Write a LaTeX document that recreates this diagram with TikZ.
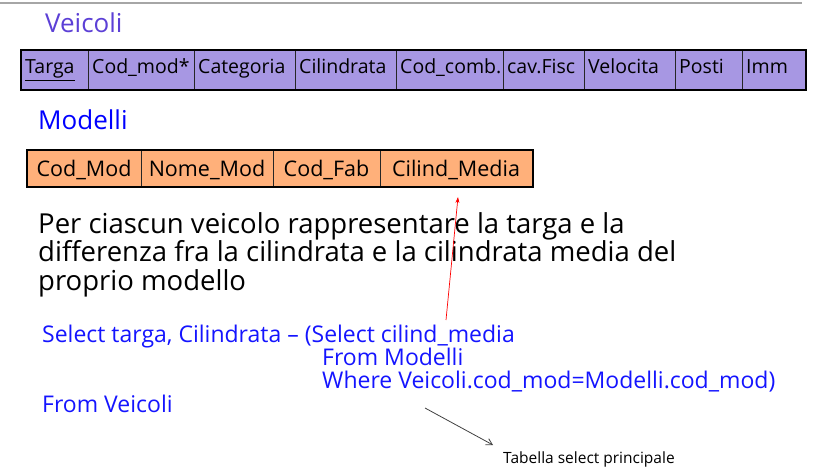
\documentclass[tikz,border=0pt]{standalone}
\usepackage{fontspec}
\setmainfont{Open Sans}
\usetikzlibrary{positioning,arrows.meta}
\definecolor{veicolifill}{RGB}{167,151,227}
\definecolor{modellifill}{RGB}{255,176,122}
\definecolor{titleviola}{RGB}{92,64,214}
\definecolor{codeblue}{RGB}{20,20,255}
\tikzset{
    vcell/.style={draw=black!85, line width=0.9pt, fill=veicolifill,
        minimum height=39pt, inner sep=0pt, anchor=north west},
    mcell/.style={draw=black!85, line width=0.9pt, fill=modellifill,
        minimum height=36pt, inner sep=0pt, anchor=north west},
    vtext/.style={inner sep=0pt, anchor=base west, font=\fontsize{19.5}{22}\selectfont},
    mtext/.style={inner sep=0pt, anchor=base, font=\fontsize{21.5}{24}\selectfont},
    titolo/.style={inner sep=0pt, anchor=base west, font=\fontsize{26}{30}\selectfont},
    codice/.style={inner sep=0pt, anchor=base west, text=codeblue,
        font=\fontsize{23}{26}\selectfont}
}

\begin{document}
\begin{tikzpicture}[x=1pt, y=-1pt]
\useasboundingbox (0,0) rectangle (813,473);

\draw[gray!70, line width=1.8pt] (0,3) -- (802,3);

% Veicoli
\node[titolo, text=titleviola] (tveicoli) at (45,33) {Veicoli};
\foreach \key/\a/\b/\txt in {targa/21/88/\underline{Targa}, codmod/88/194/Cod\_mod*,
    categoria/194/295/Categoria, cilindrata/295/396/Cilindrata,
    codcomb/396/503/Cod\_comb., cavfisc/503/584/cav.Fisc,
    velocita/584/675/Velocita, posti/675/742/Posti, imm/742/805/Imm}
{
    \node[vcell, minimum width={(\b-\a)*1pt}] (v\key) at (\a,50) {};
    \node[vtext] (vt\key) at (\a+4,74) {\txt};
}
\draw[line width=2.6pt] (vtarga.north west) rectangle (vimm.south east);

% Modelli
\node[titolo, text=blue] (tmodelli) at (38,130) {Modelli};
\foreach \key/\a/\b/\txt in {codmod/27/141/Cod\_Mod, nomemod/141/273/Nome\_Mod,
    codfab/273/380/Cod\_Fab, cilindmedia/380/532/Cilind\_Media}
{
    \node[mcell, minimum width={(\b-\a)*1pt}] (m\key) at (\a,150) {};
    \node[mtext] (mt\key) at ({(\a+\b)/2},177) {\txt};
}
\draw[line width=2.4pt] (mcodmod.north west) rectangle (mcilindmedia.south east);

% testo
\node[inner sep=0pt, anchor=base west, align=left,
    font=\fontsize{27.5}{28.5}\selectfont] (domanda) at (38,290)
    {Per ciascun veicolo rappresentare la targa e la\\
     differenza fra la cilindrata e la cilindrata media del\\
     proprio modello};

% query
\node[codice] (select) at (42,342) {Select targa, Cilindrata – (Select cilind\_media};
\node[codice] (frommod) at (322,365) {From Modelli};
\node[codice] (where) at (322,388) {Where Veicoli.cod\_mod=Modelli.cod\_mod)};
\node[codice] (fromveic) at (42,412) {From Veicoli};
\node[inner sep=0pt, anchor=base west, font=\fontsize{15.5}{18}\selectfont] (principale)
    at (503,463) {Tabella select principale};

\coordinate (rosso) at (446,320);
\coordinate (media) at (458,197);
\draw[red, line width=0.7pt, -{Stealth[length=6pt,width=4pt]}] (rosso) -- (media);
\coordinate (nero) at (425,408);
\coordinate (tabella) at (493,445);
\draw[black!75, line width=0.8pt, -{Straight Barb[length=6pt,width=7pt]}] (nero) -- (tabella);
\end{tikzpicture}
\end{document}
